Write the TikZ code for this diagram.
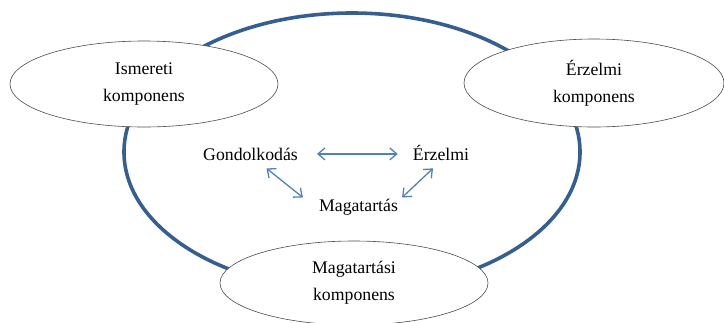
\documentclass[tikz,border=0pt]{standalone}
\usepackage{fontspec}
\setmainfont{Liberation Serif}
\usetikzlibrary{arrows.meta, shapes.geometric}
\definecolor{ringblue}{RGB}{54,95,145}
\definecolor{arrowblue}{RGB}{79,129,189}

\begin{document}
\begin{tikzpicture}[x=1bp, y=-1bp,
    every node/.style={font=\fontsize{17.8}{27}\selectfont},
    ring/.style={ellipse, draw=ringblue, line width=3.6bp, minimum width=456bp, minimum height=278bp},
    part/.style={ellipse, draw=black!70, fill=white, line width=0.6bp, align=center, inner sep=0pt},
    word/.style={inner sep=0pt, anchor=base},
    link/.style={arrowblue, line width=1.3bp, {Straight Barb[length=7bp,width=12bp]}-{Straight Barb[length=7bp,width=12bp]}}]
  \useasboundingbox (0,0) rectangle (724,322);
  \node[ring] (ring) at (352,152) {};
  \node[part, minimum width=268bp, minimum height=86bp] (ism) at (144,84) {Ismereti\\komponens};
  \node[part, minimum width=260bp, minimum height=88bp] (erzk) at (594,83) {Érzelmi\\komponens};
  \node[part, minimum width=268bp, minimum height=84bp] (magk) at (354,283) {Magatartási\\komponens};
  \node[word] (gond) at (250.5,160) {Gondolkodás};
  \node[word] (erz) at (441,160) {Érzelmi};
  \node[word] (mag) at (358.5,211) {Magatartás};
  \path (gond.east) edge[link, shorten <=19bp, shorten >=15bp] (gond.east -| erz.west)
        ([shift={(16,8)}]gond.south) edge[link] ([shift={(-16,-1)}]mag.north west)
        ([shift={(-8,8)}]erz.south) edge[link] ([shift={(4,-1)}]mag.north east);
\end{tikzpicture}
\end{document}
